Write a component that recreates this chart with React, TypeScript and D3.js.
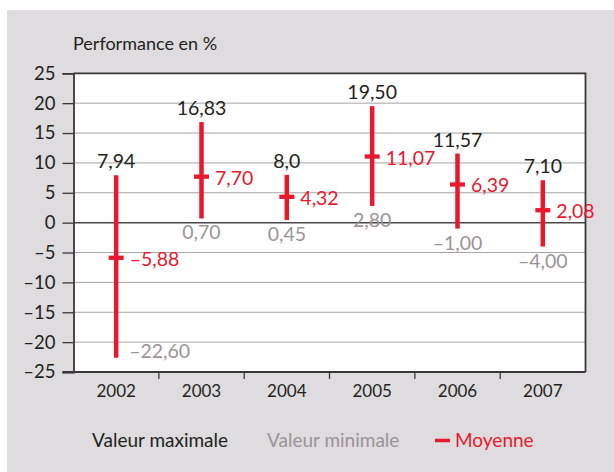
import React, { useEffect, useRef } from 'react';
import * as d3 from 'd3';

const years = ['2002', '2003', '2004', '2005', '2006', '2007'];
const maxValues = [7.94, 16.83, 8.0, 19.5, 11.57, 7.1];
const minValues = [-22.6, 0.7, 0.45, 2.8, -1.0, -4.0];
const meanValues = [-5.88, 7.7, 4.32, 11.07, 6.39, 2.08];
const maxLabels = ['7,94', '16,83', '8,0', '19,50', '11,57', '7,10'];
const minLabels = ['–22,60', '0,70', '0,45', '2,80', '–1,00', '–4,00'];
const meanLabels = ['–5,88', '7,70', '4,32', '11,07', '6,39', '2,08'];
const yTicks = [25, 20, 15, 10, 5, 0, -5, -10, -15, -20, -25];

const RED = '#e8192c';
const GREY_TEXT = '#9b9397';
const DARK = '#231f20';
const FONT = 'Lato, "Open Sans", sans-serif';

export default function App() {
  const svgRef = useRef<SVGSVGElement>(null);

  useEffect(() => {
    if (!svgRef.current) return;
    const width = 614;
    const height = 472;

    d3.select(svgRef.current).selectAll('*').remove();
    const svg = d3.select(svgRef.current)
      .attr('width', width)
      .attr('height', height);

    // Grey card background
    svg.append('rect')
      .attr('x', 7)
      .attr('y', 10)
      .attr('width', width - 7)
      .attr('height', height - 10)
      .attr('fill', '#dedcdf');

    const plot = { left: 73.5, right: 585.5, top: 73.3, bottom: 372 };

    const xScale = d3.scaleBand<string>()
      .domain(years)
      .range([plot.left, plot.right]);

    const yScale = d3.scaleLinear()
      .domain([-25, 25])
      .range([plot.bottom, plot.top]);

    // Plot background
    svg.append('rect')
      .attr('x', plot.left)
      .attr('y', plot.top)
      .attr('width', plot.right - plot.left)
      .attr('height', plot.bottom - plot.top)
      .attr('fill', 'white');

    // Grid lines
    svg.append('g')
      .selectAll('line')
      .data(yTicks.filter(t => t !== 0 && t !== 25 && t !== -25))
      .join('line')
      .attr('x1', plot.left)
      .attr('x2', plot.right)
      .attr('y1', d => yScale(d))
      .attr('y2', d => yScale(d))
      .attr('stroke', '#a6a4a6')
      .attr('stroke-width', 1);

    // Zero line
    svg.append('line')
      .attr('x1', plot.left)
      .attr('x2', plot.right)
      .attr('y1', yScale(0))
      .attr('y2', yScale(0))
      .attr('stroke', '#4a4748')
      .attr('stroke-width', 1.5);

    // Frame: top and right
    svg.append('path')
      .attr('d', `M${plot.left},${plot.top}H${plot.right}V${plot.bottom}`)
      .attr('fill', 'none')
      .attr('stroke', '#3a3738')
      .attr('stroke-width', 1.8);

    // Y axis
    const yAxis = svg.append('g')
      .attr('transform', `translate(${plot.left},0)`)
      .call(d3.axisLeft(yScale)
        .tickValues(yTicks)
        .tickSize(11)
        .tickPadding(7)
        .tickFormat(d => (d as number) < 0 ? `–${Math.abs(d as number)}` : `${d}`)
      );
    yAxis.select('.domain').attr('stroke', '#3a3738').attr('stroke-width', 1.8);
    yAxis.selectAll('.tick line').attr('stroke', '#3a3738').attr('stroke-width', 1.3);
    yAxis.selectAll('text')
      .attr('font-family', FONT)
      .attr('font-size', '18.5px')
      .attr('fill', DARK);

    // X axis
    svg.append('line')
      .attr('x1', plot.left - 11)
      .attr('x2', plot.right)
      .attr('y1', plot.bottom)
      .attr('y2', plot.bottom)
      .attr('stroke', '#3a3738')
      .attr('stroke-width', 1.8);

    svg.append('g')
      .selectAll('line')
      .data(years.slice(1))
      .join('line')
      .attr('x1', d => xScale(d)!)
      .attr('x2', d => xScale(d)!)
      .attr('y1', plot.bottom)
      .attr('y2', plot.bottom + 7)
      .attr('stroke', '#3a3738')
      .attr('stroke-width', 1.3);

    svg.append('g')
      .selectAll('text')
      .data(years)
      .join('text')
      .attr('x', d => xScale(d)! + xScale.bandwidth() / 2)
      .attr('y', 397)
      .attr('text-anchor', 'middle')
      .attr('font-family', FONT)
      .attr('font-size', '17px')
      .attr('fill', DARK)
      .text(d => d);

    // Range bars
    const cx = (i: number) => xScale(years[i])! + xScale.bandwidth() / 2;
    const marks = svg.append('g');

    marks.selectAll('line.range')
      .data(years)
      .join('line')
      .attr('class', 'range')
      .attr('x1', (_, i) => cx(i))
      .attr('x2', (_, i) => cx(i))
      .attr('y1', (_, i) => yScale(maxValues[i]))
      .attr('y2', (_, i) => yScale(minValues[i]))
      .attr('stroke', RED)
      .attr('stroke-width', 4.5);

    marks.selectAll('line.mean')
      .data(years)
      .join('line')
      .attr('class', 'mean')
      .attr('x1', (_, i) => cx(i) - 7.5)
      .attr('x2', (_, i) => cx(i) + 7.5)
      .attr('y1', (_, i) => yScale(meanValues[i]))
      .attr('y2', (_, i) => yScale(meanValues[i]))
      .attr('stroke', RED)
      .attr('stroke-width', 4.3);

    // Labels
    const labels = svg.append('g')
      .attr('font-family', FONT)
      .attr('font-size', '19.5px');

    labels.selectAll('text.max')
      .data(maxLabels)
      .join('text')
      .attr('class', 'max')
      .attr('x', (_, i) => cx(i))
      .attr('y', (_, i) => yScale(maxValues[i]) - 7)
      .attr('text-anchor', 'middle')
      .attr('fill', DARK)
      .text(d => d);

    // first min label sits beside the bar, the others below it
    labels.selectAll('text.min')
      .data(minLabels)
      .join('text')
      .attr('class', 'min')
      .attr('x', (_, i) => i === 0 ? cx(i) + 13 : cx(i))
      .attr('y', (_, i) => i === 0 ? yScale(minValues[i]) : yScale(minValues[i]) + 21)
      .attr('text-anchor', (_, i) => i === 0 ? 'start' : 'middle')
      .attr('fill', GREY_TEXT)
      .text(d => d);

    labels.selectAll('text.meanlbl')
      .data(meanLabels)
      .join('text')
      .attr('class', 'meanlbl')
      .attr('x', (_, i) => cx(i) + 13.5)
      .attr('y', (_, i) => yScale(meanValues[i]) + 8)
      .attr('fill', RED)
      .text(d => d);

    // Title
    svg.append('text')
      .attr('x', 73)
      .attr('y', 50)
      .attr('font-family', FONT)
      .attr('font-size', '18px')
      .attr('fill', DARK)
      .text('Performance en %');

    // Legend
    const legend = svg.append('g')
      .attr('font-family', FONT)
      .attr('font-size', '19px');

    legend.append('text')
      .attr('x', 92)
      .attr('y', 447)
      .attr('fill', DARK)
      .text('Valeur maximale');

    legend.append('text')
      .attr('x', 267)
      .attr('y', 447)
      .attr('fill', GREY_TEXT)
      .text('Valeur minimale');

    legend.append('line')
      .attr('x1', 435)
      .attr('x2', 450)
      .attr('y1', 440.5)
      .attr('y2', 440.5)
      .attr('stroke', RED)
      .attr('stroke-width', 3.5);

    legend.append('text')
      .attr('x', 455)
      .attr('y', 447)
      .attr('fill', RED)
      .text('Moyenne');
  }, []);

  return (
    <div style={{ position: 'fixed', left: 0, top: 0 }}>
      <svg ref={svgRef} style={{ display: 'block' }}></svg>
    </div>
  );
}
